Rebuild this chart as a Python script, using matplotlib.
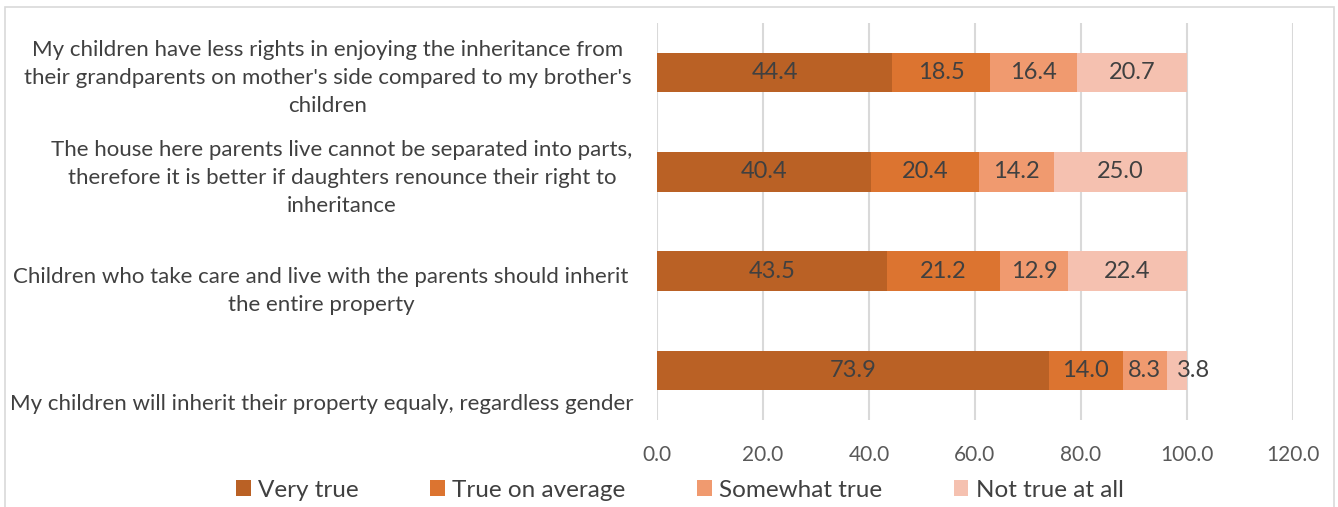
import matplotlib
matplotlib.use("Agg")
import matplotlib.pyplot as plt
import matplotlib.transforms as mtransforms
from matplotlib.patches import Rectangle

# statements, top to bottom
statements = [
    "My children have less rights in enjoying the inheritance from\n"
    "their grandparents on mother's side compared to my brother's\n"
    "children",
    "The house here parents live cannot be separated into parts,\n"
    "therefore it is better if daughters renounce their right to\n"
    "inheritance",
    "Children who take care and live with the parents should inherit\n"
    "the entire property",
    "My children will inherit their property equaly, regardless gender",
]
series_names = ["Very true", "True on average", "Somewhat true", "Not true at all"]
very_true = [44.4, 40.4, 43.5, 73.9]
true_on_average = [18.5, 20.4, 21.2, 14.0]
somewhat_true = [16.4, 14.2, 12.9, 8.3]
not_true_at_all = [20.7, 25.0, 22.4, 3.8]
x_ticks = [0, 20, 40, 60, 80, 100, 120]

colors = ["#BA6125", "#DC7430", "#F09A6F", "#F5C1B0"]
text_color = "#404040"
plt.rcParams["font.family"] = ["Lato", "DejaVu Sans"]

fig = plt.figure(figsize=(13.38, 5.07), dpi=100)
ax = fig.add_axes([0.491, 0.1716, 0.4753, 0.783])

# chart area border
fig.patches.append(Rectangle((5 / 1338, -0.1), 1329 / 1338, 1 - 7 / 507 + 0.1,
                             transform=fig.transFigure, fill=False,
                             edgecolor="#D9D9D9", lw=1.2))

ypos = list(range(len(statements)))
left = [0.0] * len(statements)
for name, vals, col in zip(series_names,
                           [very_true, true_on_average, somewhat_true, not_true_at_all],
                           colors):
    bars = ax.barh(ypos, vals, left=left, height=0.4, color=col, label=name,
                   zorder=3)
    labels = ax.bar_label(bars, labels=["%.1f" % v for v in vals],
                          label_type="center", fontsize=17, color=text_color)
    for lab, v in zip(labels, vals):
        if v < 5:
            lab.xyann = (lab.xyann[0] + 12, lab.xyann[1])
    left = [a + b for a, b in zip(left, vals)]

ax.set_xlim(0, 120)
ax.set_ylim(len(statements) - 0.5, -0.5)
ax.set_xticks(x_ticks)
ax.set_xticklabels(["%.1f" % t for t in x_ticks], fontsize=15, color="#595959")
ax.set_yticks([])
ax.tick_params(axis="x", length=0, pad=18)
ax.grid(axis="x", color="#D9D9D9", lw=1.5, zorder=0)
for s in ax.spines.values():
    s.set_visible(False)

# category labels (Excel places them slightly below each bar)
label_x = [0.2451, 0.2556, 0.2399, 0.2407]
label_offsets = [0.05, 0.06, 0.2, 0.34]
trans = mtransforms.blended_transform_factory(fig.transFigure, ax.transData)
for y, txt, lx, off in zip(ypos, statements, label_x, label_offsets):
    ax.text(lx, y + off, txt, transform=trans, ha="center", va="center",
            fontsize=16, color=text_color, linespacing=1.5, clip_on=False)

fig.legend(loc="center", bbox_to_anchor=(0.508, 0.0335), ncol=4, frameon=False,
           fontsize=17.5, handlelength=0.6, handleheight=0.6,
           handletextpad=0.3, columnspacing=2.95, labelcolor=text_color)

fig.savefig("out.png", dpi=100)
